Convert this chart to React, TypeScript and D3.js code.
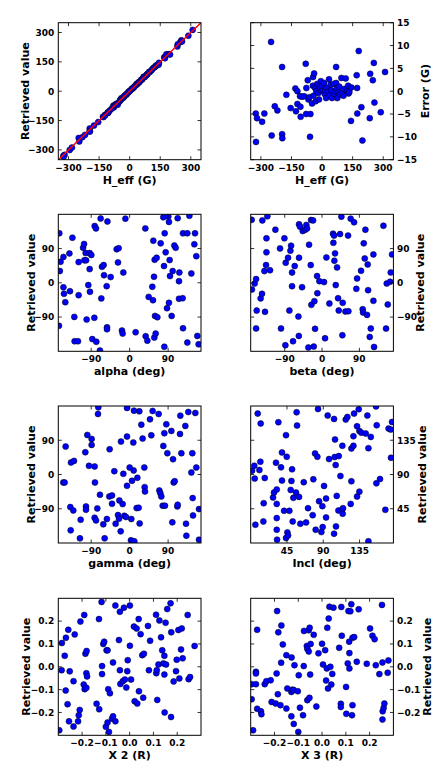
import React from "react";
import * as d3 from "d3";

const W = 447;
const H = 782;
const FONT = "'DejaVu Sans', sans-serif";

// [H_eff (G), error (G)] ; retrieved = H_eff + error
const hEffPoints: [number, number][] = [
  [-325, -4.9], [-319, -5.9], [-324, -11.1], [-294, -6.7], [-283, -4.9], [-250, 10.8], [-247, -9.7],
  [-232, -3.3], [-219, -4.2], [-196, 5.3], [-196, -9.4], [-195, -10.3], [-175, -0.8], [-154, -3.7],
  [-131, 0.6], [-128, -4.4], [-121, 0.0], [-121, -2.8], [-108, -1.1], [-106, -3.4], [-105, -5.6],
  [-98, -1.2], [-88, -1.1], [-80, 6.0], [-78, -5.0], [-77, 0.7], [-70, 2.4], [-67, -1.8], [-62, -1.3],
  [-59, -10.0], [-57, -5.0], [-49, -2.7], [-45, 1.2], [-44, 3.1], [-42, -1.0], [-39, 3.9], [-34, 0.7],
  [-31, -2.2], [-28, 0.0], [-24, 1.6], [-18, -0.4], [-15, -1.8], [-13, 1.0], [-6, 2.2], [-5, 0.1],
  [0, 1.1], [3, 0.2], [10, 1.8], [13, -0.6], [15, 0.3], [20, -1.5], [23, 0.7], [31, -0.1], [34, 2.6],
  [38, -0.9], [42, 1.4], [45, 0.2], [49, -1.5], [56, 1.6], [60, -0.6], [62, 0.0], [69, 5.3], [69, 1.8],
  [72, 0.5], [75, -1.5], [82, -0.2], [85, 1.0], [88, -0.7], [95, 2.9], [98, -0.4], [105, -1.0],
  [110, 0.5], [116, 2.8], [123, 0.0], [128, 1.2], [130, -0.5], [134, -0.2], [142, -6.5], [144, 0.8],
  [170, 3.5], [172, 0.7], [173, -4.9], [180, 8.8], [193, -3.5], [198, -10.8], [234, -5.9], [236, 3.8],
  [249, 2.4], [254, 6.2], [257, -2.5], [288, -4.6], [309, 4.2],
];

const alphaPoints: [number, number][] = [
  [-164.7, 130], [-165.4, -113], [-155, 68], [-161.8, 55], [-163.4, 31], [-155, -12], [-153.7, -29],
  [-150.6, -51], [-141, 77], [-139.7, -22], [-134, 118.5], [-129.5, -89.6], [-128.8, -153.6],
  [-121, -153.6], [-119.4, 54.4], [-119.4, -32.5], [-109, 92], [-106.7, 102], [-106, 59], [-102, 59],
  [-103, 78], [-100.7, -96.6], [-96.8, -6], [-93.6, 36], [-93.6, 78], [-92.9, -23.7], [-89.7, 73],
  [-87.4, -148], [-82.7, -92], [-81.9, 149], [-78.8, 143], [-78, -155], [-69.5, -178], [-67.9, 169],
  [-66.3, -41], [-64.8, 42], [-60.9, 46.5], [-60, 20], [-53.8, -8.8], [-53, -117], [-53, -122],
  [-52, 161], [-44.5, 15], [-30.4, 88], [-25.8, 91], [-27.3, 53.6], [-18, -125.6], [-16.4, -133.5],
  [-14.8, 27], [-10, 168.6], [14, -130], [36.7, 143], [37.5, -140.5], [41.4, -152], [44.5, -37],
  [53, -10.5], [54.6, -45.7], [55.4, 110.6], [57, 15.8], [57.7, -144], [58.5, 60.6], [59.3, -87],
  [60.9, -133.5], [63.2, 65.8], [64.8, -90.4], [72.6, 103.6], [78.8, 172], [80.4, 44], [82, 130],
  [84.3, 80], [81.2, -168], [87.4, -66.7], [90.5, 174], [92, 160], [92, -52.7], [93.6, 59.7],
  [94.4, 17.6], [98.3, -87], [100.7, 30.7], [104.6, 98], [107.7, 92], [112.4, 169.8], [115.5, 4.4],
  [116.3, 27], [115.5, -42], [124, -40.4], [124.9, -119.4], [124.9, 130], [135, 130], [135, -157],
  [139.8, 176], [144.4, 24.6], [151.4, 101], [153, 130], [156, 70], [158.4, -139.6], [161.5, -161.5],
];

const betaPoints: [number, number][] = [
  [-169.6, 165.5], [-169, -17.6], [-162.4, -1.8], [-159, 9.7], [-157.6, -73], [-159, -120],
  [-148, -41], [-144.7, -29], [-143.9, 164], [-139, 30.7], [-137.5, -76.4], [-135, 46.5],
  [-134, 116.8], [-134, 80], [-131.8, 174.7], [-125.4, 33], [-112.5, 139.6], [-101.3, 90.4],
  [-98.9, -120], [-90.8, 116.8], [-88.4, -164], [-87.6, 52.7], [-82, 65.8], [-78.8, -73],
  [-76.3, 84.3], [-74.7, 97.5], [-72.3, 27], [-72.3, -8.8], [-70, -153.6], [-65.9, 43.9],
  [-57, -88.7], [-56, -139.6], [-55.5, 65.8], [-55.5, 153.6], [-53, 147.5], [-48.2, -11.4],
  [-46.6, 136], [-40.2, 139.6], [-37.8, 152], [-36.2, 143], [-33, -170], [-31.3, 100], [-27.3, 46.5],
  [-26.5, 165], [-25.7, -58], [-21.7, 164], [-20, -167.7], [-18.5, -48.3], [-16.9, -121],
  [-12, 17.6], [-11.3, -27.2], [-6.4, 4.4], [4.8, 1.8], [7.2, -145.7], [10.5, 66.7], [17.7, -54.4],
  [26.5, 129], [27.3, 105], [29, 124], [29.7, 58], [31.3, 77.3], [33, -6.1], [36.2, 40.4],
  [38.6, -40.4], [40.2, -72.9], [43.4, 128], [46.6, 173.8], [49.8, -52.7], [49, -137.8],
  [56.3, -75.5], [63.5, -74.6], [62.7, 124], [69, 168.6], [77.2, 158.9], [82.6, -15.8], [84.4, 11.4],
  [94, 31.6], [98, -69.4], [98.9, -78], [100.5, 103.6], [102.9, 64], [104.5, 139.6], [108.5, -84.3],
  [110, 48.3], [111, -19.3], [115, -142.2], [117.5, -120.3], [123.8, -47.4], [123.8, 74.6],
  [125.4, -168.6], [148, 150], [154.3, -120.3], [156, -1.8], [158.4, -57], [164, 2.6], [165.6, 27.2],
  [168.8, 74.6],
];

const gammaPoints: [number, number][] = [
  [-155.3, -21], [-152.2, -21], [-149.8, 73.4], [-138.9, -85.6], [-138, -146.8], [-137.3, 31.5],
  [-131.9, -94.4], [-130.3, 35.8], [-116.3, -167.8], [-114.7, -118.8], [-103.8, 58.5],
  [-102.2, -83.9], [-102.2, -92.6], [-99.1, 104], [-95.2, 22.7], [-89, 93.5], [-89, 77.8],
  [-82, -113.6], [-82, 21], [-81.2, -21], [-78.8, -120.6], [-75.7, -89.1], [-74.1, 159],
  [-73.4, 176.5], [-69.5, -53.3], [-61.7, -131], [-58.5, -167.8], [-53.3, -117], [-46.8, 66.4],
  [-47.6, -57.7], [-41.3, -55], [-41.3, -76.9], [-35.9, 8.7], [-32.8, -129.3], [-27.3, -106.6],
  [-24.9, -116.2], [-24.1, -68.2], [-21, -149.4], [-20.3, 86.5], [-16.4, -77.8], [-14.8, 1.7],
  [-12.5, -108.4], [-8.6, -111.8], [-6.2, 99.6], [-6.2, -29.7], [-6.2, 174.8], [0, 18.3],
  [3.1, -173], [3.9, -117], [5.5, -16.6], [8.6, 83.9], [9.4, 10.5], [10.9, -175.6], [10.1, 167.8],
  [16.4, -88.3], [18, -8.7], [21.1, -87.4], [22.6, 166], [23.4, -128.5], [27.3, 131], [30.4, 94.4],
  [34.3, 18.3], [35.1, -33.2], [35.9, -44.6], [47.6, 145], [50.7, 103], [53.8, 166.9], [67.9, 159],
  [69.5, -42], [71.8, -49], [74.1, -57.7], [77.3, -82.1], [78.8, 75.1], [81.2, 108.4], [82.7, -82.1],
  [85.8, 132], [88.2, 55.9], [97.6, 114.5], [101.5, 40.2], [103.1, -21], [105.4, -17.5],
  [99.9, -125.8], [111.6, -83.9], [112.4, -79.5], [118.6, 154.7], [117.8, 106.6], [121, 55.9],
  [130.3, 127.6], [131.9, -129.3], [132.7, -160.8], [137.3, 164.3], [144.4, 5.2], [146.7, 55.9],
  [147.5, -62], [148.3, -107.5], [153.7, 161.7], [156, 18.3], [162.3, -90.9], [162.3, -171.3],
];

const inclPoints: [number, number][] = [
  [1.7, 95], [4.5, 101.5], [5, 84.6], [5.8, 24], [8.7, 170], [10.8, 95.9], [12, 106.8], [12.4, 157],
  [15.7, 28.3], [16.1, 52.3], [17.4, 85.4], [27.7, 59.7], [28.9, 66.3], [32.3, 70.2], [32.3, 51.4],
  [32.3, 32.7], [32.3, 17.4], [32.7, 4.4], [31.4, 105.5], [34.3, 158.7], [37.6, 99.4], [38.8, 82],
  [38.8, 119], [41.4, 42.3], [43.8, 141.7], [43.8, 6.5], [44.7, 113.3], [45.5, 13.9], [46.3, 10],
  [48, 42.3], [49.6, 69.7], [50.5, 81.5], [51.3, 96.8], [52.1, 28.3], [52.9, 59.3], [56.2, 66.3],
  [57, 171.7], [57.5, 154.3], [60, 60.6], [61.6, 25.3], [65.8, 79.8], [68.7, 27], [71.1, 45.8],
  [76.9, 36.6], [77.7, 83.7], [79.8, 117.7], [80.6, 17.4], [82.7, 113.3], [83.5, 176], [84.8, 54.9],
  [87.7, 14.4], [88.9, 48.4], [89.3, 20.9], [91, 75], [93.5, 58.4], [93.5, 33.6], [95.5, 167.4],
  [97.2, 110.3], [103.4, 163], [103.4, 12.2], [104.6, 136], [104.2, 112.9], [105.4, 102.4],
  [105.8, 21.8], [106.7, 61.9], [109.2, 114.2], [108.8, 42.7], [111.3, 88], [113.3, 43.6],
  [114.1, 38.4], [114.5, 45.8], [113.7, 127.7], [117.9, 162.2], [119.9, 165.6], [124, 51.4],
  [124.9, 81.1], [124.9, 124.2], [127.4, 127.7], [127.4, 140.3], [128.2, 170], [131.9, 153.4],
  [131.9, 61], [134, 175.7], [134.8, 67.5], [134.8, 147.3], [137.2, 145], [142.7, 143.8],
  [144.7, 167.4], [146, 124.6], [146, 2.2], [149, 139.4], [155.5, 179.5], [156.3, 154.7],
  [155.9, 78.4], [160.4, 84], [167, 43.6], [171, 150.3], [173.6, 149], [175.3, 159], [174, 112],
];

const x2Points: [number, number][] = [
  [-0.296, -0.278], [-0.286, -0.015], [-0.285, 0.104], [-0.273, 0.048], [-0.269, -0.104],
  [-0.268, 0.127], [-0.261, -0.164], [-0.258, 0.162], [-0.255, -0.239], [-0.252, -0.02],
  [-0.236, -0.063], [-0.236, -0.262], [-0.231, 0.142], [-0.217, -0.239], [-0.214, -0.212],
  [-0.21, -0.189], [-0.207, 0.198], [-0.191, 0.227], [-0.193, -0.078], [-0.189, -0.098],
  [-0.186, 0.057], [-0.182, -0.092], [-0.181, 0.069], [-0.182, -0.028], [-0.179, -0.042],
  [-0.139, -0.162], [-0.129, 0.209], [-0.128, -0.186], [-0.118, 0.284], [-0.116, -0.032],
  [-0.116, 0.003], [-0.111, 0.1], [-0.107, 0.11], [-0.1, -0.263], [-0.097, 0.072], [-0.093, 0.072],
  [-0.093, -0.244], [-0.09, -0.098], [-0.087, -0.285], [-0.083, -0.116], [-0.074, -0.227],
  [-0.07, 0.019], [-0.07, -0.217], [-0.06, 0.268], [-0.06, -0.239], [-0.045, 0.117], [-0.041, 0.241],
  [-0.041, -0.015], [-0.039, -0.075], [-0.029, -0.063], [-0.024, 0.259], [-0.02, -0.056],
  [-0.014, -0.091], [-0.01, -0.019], [-0.008, 0.029], [0.001, 0.268], [0.001, 0.092], [0.006, -0.056],
  [0.018, 0.176], [0.021, -0.151], [0.029, 0.168], [0.032, -0.161], [0.038, 0.209], [0.039, -0.107],
  [0.046, 0.143], [0.053, 0.051], [0.057, -0.135], [0.06, 0.057], [0.077, 0.179], [0.081, -0.015],
  [0.086, 0.114], [0.111, 0.228], [0.112, -0.028], [0.114, -0.015], [0.116, -0.145], [0.121, 0.01],
  [0.125, 0.203], [0.132, 0.129], [0.137, 0.072], [0.142, 0.015], [0.146, -0.034], [0.146, 0.048],
  [0.147, -0.2], [0.151, 0.193], [0.153, 0.01], [0.158, 0.253], [0.172, 0.278], [0.174, -0.22],
  [0.175, 0.151], [0.185, -0.064], [0.195, -0.019], [0.198, 0.031], [0.205, 0.161], [0.209, -0.051],
  [0.216, 0.076], [0.219, 0.168], [0.223, 0.037], [0.244, 0.227], [0.248, -0.054], [0.254, -0.045],
  [0.273, 0.091],
];

const x3Points: [number, number][] = [
  [-0.296, -0.076], [-0.296, -0.142], [-0.29, -0.278], [-0.278, -0.076], [-0.278, -0.022],
  [-0.278, -0.029], [-0.273, 0.162], [-0.273, -0.184], [-0.257, -0.195], [-0.255, -0.208],
  [-0.241, -0.076], [-0.234, -0.063], [-0.216, -0.059], [-0.212, -0.154], [-0.195, -0.161],
  [-0.191, -0.029], [-0.189, 0.244], [-0.186, -0.12], [-0.184, 0.151], [-0.175, -0.168],
  [-0.172, 0.018], [-0.171, 0.181], [-0.165, 0.098], [-0.15, -0.183], [-0.15, 0.051], [-0.146, -0.095],
  [-0.129, -0.217], [-0.128, 0.041], [-0.129, -0.11], [-0.125, -0.1], [-0.119, -0.25], [-0.116, 0.007],
  [-0.119, -0.102], [-0.102, -0.107], [-0.1, -0.285], [-0.098, -0.037], [-0.093, -0.179],
  [-0.08, -0.212], [-0.077, 0.003], [-0.076, 0.157], [-0.064, 0.091], [-0.062, 0.079],
  [-0.062, -0.146], [-0.056, 0.067], [-0.056, 0.16], [-0.053, -0.136], [-0.052, 0.171],
  [-0.05, -0.034], [-0.048, 0.1], [-0.035, 0.14], [-0.024, -0.174], [-0.015, 0.059], [0, 0.101],
  [0.004, 0.01], [0.013, 0.073], [0.017, -0.06], [0.02, -0.007], [0.022, 0.171], [0.025, -0.095],
  [0.028, 0.211], [0.031, 0.263], [0.035, 0], [0.039, -0.078], [0.043, -0.031], [0.048, 0.259],
  [0.072, 0.083], [0.079, -0.162], [0.079, -0.176], [0.081, 0.262], [0.083, 0.136], [0.101, -0.088],
  [0.102, -0.206], [0.108, 0.015], [0.111, 0.244], [0.114, 0.11], [0.115, 0.06], [0.115, -0.007],
  [0.119, 0.243], [0.123, 0.274], [0.126, -0.212], [0.128, -0.168], [0.128, 0.127], [0.135, 0.13],
  [0.146, 0.022], [0.154, 0.252], [0.188, 0.013], [0.202, 0.168], [0.212, 0.136], [0.221, 0.121],
  [0.226, 0.007], [0.241, -0.032], [0.252, 0.271], [0.254, 0.019], [0.254, -0.231], [0.255, -0.195],
  [0.259, -0.18], [0.262, -0.161], [0.276, -0.026], [0.279, 0.028],
];

const hTicks = [-300, -150, 0, 150, 300];
const errTicks = [-15, -10, -5, 0, 5, 10, 15];
const angleTicks = [-90, 0, 90];
const inclTicks = [45, 90, 135];
const rTicks = [-0.2, -0.1, 0.0, 0.1, 0.2];

const fmtInt = (v: number) => (v < 0 ? "\u2212" + Math.abs(v) : String(v));
const fmt1 = (v: number) => (v < -1e-9 ? "\u2212" + Math.abs(v).toFixed(1) : Math.abs(v).toFixed(1));

const COLS = [58.3, 250.7];
const ROWS = [22.7, 214.3, 406, 598.3];
const PW = 142.7;
const PH = 137;

type Cfg = {
  id: string;
  col: number;
  row: number;
  pts: [number, number][];
  xDomain: [number, number];
  yDomain: [number, number];
  xTicks: number[];
  yTicks: number[];
  fmt: (v: number) => string;
  xLabel: string;
  yLabel: string;
  yRight: boolean;
  yLabelOff: number;
  identity?: boolean;
};

const panels: Cfg[] = [
  {
    id: "p1", col: 0, row: 0,
    pts: hEffPoints.map(([h, e]) => [h, h + e] as [number, number]),
    xDomain: [-350, 350], yDomain: [-350, 350], xTicks: hTicks, yTicks: hTicks, fmt: fmtInt,
    xLabel: "H_eff (G)", yLabel: "Retrieved value", yRight: false, yLabelOff: 33, identity: true,
  },
  {
    id: "p2", col: 1, row: 0, pts: hEffPoints,
    xDomain: [-350, 350], yDomain: [-15, 15], xTicks: hTicks, yTicks: errTicks, fmt: fmtInt,
    xLabel: "H_eff (G)", yLabel: "Error (G)", yRight: true, yLabelOff: 31.5,
  },
  {
    id: "p3", col: 0, row: 1, pts: alphaPoints,
    xDomain: [-167, 167], yDomain: [-180, 180], xTicks: angleTicks, yTicks: angleTicks, fmt: fmtInt,
    xLabel: "alpha (deg)", yLabel: "Retrieved value", yRight: false, yLabelOff: 27,
  },
  {
    id: "p4", col: 1, row: 1, pts: betaPoints,
    xDomain: [-172, 172], yDomain: [-180, 180], xTicks: angleTicks, yTicks: angleTicks, fmt: fmtInt,
    xLabel: "beta (deg)", yLabel: "Retrieved value", yRight: true, yLabelOff: 27,
  },
  {
    id: "p5", col: 0, row: 2, pts: gammaPoints,
    xDomain: [-167, 167], yDomain: [-180, 180], xTicks: angleTicks, yTicks: angleTicks, fmt: fmtInt,
    xLabel: "gamma (deg)", yLabel: "Retrieved value", yRight: false, yLabelOff: 27,
  },
  {
    id: "p6", col: 1, row: 2, pts: inclPoints,
    xDomain: [0, 177], yDomain: [0, 180], xTicks: inclTicks, yTicks: inclTicks, fmt: fmtInt,
    xLabel: "Incl (deg)", yLabel: "Retrieved value", yRight: true, yLabelOff: 29,
  },
  {
    id: "p7", col: 0, row: 3, pts: x2Points,
    xDomain: [-0.3, 0.3], yDomain: [-0.3, 0.3], xTicks: rTicks, yTicks: rTicks, fmt: fmt1,
    xLabel: "X 2 (R)", yLabel: "Retrieved value", yRight: false, yLabelOff: 32,
  },
  {
    id: "p8", col: 1, row: 3, pts: x3Points,
    xDomain: [-0.3, 0.3], yDomain: [-0.3, 0.3], xTicks: rTicks, yTicks: rTicks, fmt: fmt1,
    xLabel: "X 3  (R)", yLabel: "Retrieved value", yRight: true, yLabelOff: 34,
  },
];

const TICK = 3.5;

function Panel({ cfg }: { cfg: Cfg }) {
  const left = COLS[cfg.col];
  const top = ROWS[cfg.row];
  const right = left + PW;
  const bottom = top + PH;
  const x = d3.scaleLinear().domain(cfg.xDomain).range([left, right]);
  const y = d3.scaleLinear().domain(cfg.yDomain).range([bottom, top]);
  const cy = (top + bottom) / 2;
  const lx = cfg.yRight ? right + cfg.yLabelOff : left - cfg.yLabelOff;
  let line: string | null = null;
  if (cfg.identity) {
    const lg = d3.line<number>().x((d) => x(d)).y((d) => y(d));
    line = lg(cfg.xDomain as number[]);
  }
  return (
    <g>
      <defs>
        <clipPath id={"clip-" + cfg.id}>
          <rect x={left} y={top} width={PW} height={PH} />
        </clipPath>
      </defs>
      <g clipPath={`url(#clip-${cfg.id})`}>
        {cfg.pts.map((p, i) => (
          <circle key={i} cx={x(p[0])} cy={y(p[1])} r={3} fill="#0000ff" stroke="#000" strokeWidth={0.5} />
        ))}
        {line && <path d={line} stroke="#ff0000" strokeWidth={1.5} fill="none" />}
      </g>
      {cfg.xTicks.map((t) => (
        <g key={"xt" + t}>
          <line x1={x(t)} x2={x(t)} y1={bottom} y2={bottom - TICK} stroke="#000" strokeWidth={0.8} />
          <line x1={x(t)} x2={x(t)} y1={top} y2={top + TICK} stroke="#000" strokeWidth={0.8} />
          <text x={x(t)} y={bottom + 10.8} textAnchor="middle" fontSize={9} fontWeight="bold" fontFamily={FONT}>
            {cfg.fmt(t)}
          </text>
        </g>
      ))}
      {cfg.yTicks.map((t) => (
        <g key={"yt" + t}>
          <line x1={left} x2={left + TICK} y1={y(t)} y2={y(t)} stroke="#000" strokeWidth={0.8} />
          <line x1={right} x2={right - TICK} y1={y(t)} y2={y(t)} stroke="#000" strokeWidth={0.8} />
          <text
            x={cfg.yRight ? right + 3.5 : left - 4}
            y={y(t) + 3.3}
            textAnchor={cfg.yRight ? "start" : "end"}
            fontSize={9}
            fontWeight="bold"
            fontFamily={FONT}
          >
            {cfg.fmt(t)}
          </text>
        </g>
      ))}
      <rect x={left} y={top} width={PW} height={PH} fill="none" stroke="#000" strokeWidth={1} />
      <text x={(left + right) / 2} y={bottom + 24} textAnchor="middle" fontSize={11} fontWeight="bold" fontFamily={FONT}>
        {cfg.xLabel}
      </text>
      <text
        transform={`translate(${lx},${cy}) rotate(-90)`}
        textAnchor="middle"
        dy="0.35em"
        fontSize={11}
        fontWeight="bold"
        fontFamily={FONT}
      >
        {cfg.yLabel}
      </text>
    </g>
  );
}

export default function App() {
  return (
    <svg
      width={W}
      height={H}
      viewBox={`0 0 ${W} ${H}`}
      style={{ position: "absolute", left: 0, top: 0, background: "#fff" }}
    >
      <rect x={0} y={0} width={W} height={H} fill="#fff" />
      {panels.map((p) => (
        <Panel key={p.id} cfg={p} />
      ))}
    </svg>
  );
}
